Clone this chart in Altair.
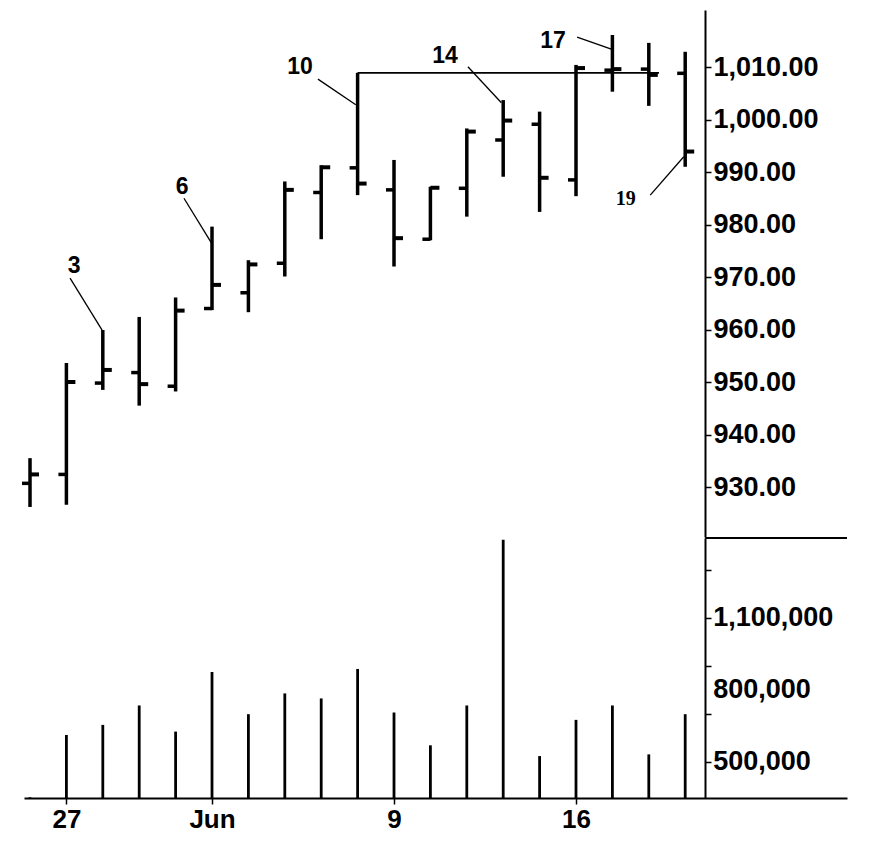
import altair as alt
import pandas as pd

# ---- data ----
dates = ["May 23", "May 27", "May 28", "May 29", "May 30", "Jun 2", "Jun 3", "Jun 4",
         "Jun 5", "Jun 6", "Jun 9", "Jun 10", "Jun 11", "Jun 12", "Jun 13", "Jun 16",
         "Jun 17", "Jun 18", "Jun 19"]
opens = [930.7, 932.4, 949.8, 951.8, 949.2, 964.0, 967.0, 972.6, 986.1, 990.8,
         986.6, 977.2, 986.9, 996.1, 999.1, 988.5, 1009.4, 1009.6, 1008.8]
highs = [935.5, 953.6, 959.9, 962.4, 966.1, 979.6, 973.2, 988.2, 991.3, 1008.9,
         992.3, 987.2, 998.3, 1003.7, 1001.5, 1010.4, 1016.1, 1014.6, 1012.9]
lows = [926.2, 926.6, 948.5, 945.5, 948.2, 963.7, 963.3, 970.1, 977.2, 985.6,
        972.0, 977.0, 981.5, 989.1, 982.4, 985.4, 1005.3, 1002.6, 991.0]
closes = [932.4, 950.0, 952.3, 949.6, 963.6, 968.5, 972.4, 986.6, 990.9, 987.8,
          977.4, 987.0, 997.7, 999.8, 988.9, 1009.8, 1009.6, 1008.5, 993.9]
volumes = [352000, 611600, 653500, 734400, 625600, 873900, 698100, 784600, 763700,
           886500, 705100, 568400, 734400, 1425000, 523700, 674400, 734400, 530700, 698100]

x_tick_pos = [1, 5, 10, 15]
x_tick_text = ["27", "Jun", "9", "16"]
price_ticks = [930, 940, 950, 960, 970, 980, 990, 1000, 1010]
vol_ticks = [500000, 600000, 700000, 800000, 900000, 1000000, 1100000, 1200000, 1300000]
vol_labeled = [500000, 800000, 1100000]
vol_label_text = ["500,000", "800,000", "1,100,000"]

ann_text = ["3", "6", "10", "14", "17", "19"]
ann_x = [1.21, 4.18, 7.42, 11.40, 14.37, 16.37]
ann_y = [972.1, 987.1, 1010.0, 1012.1, 1015.0, 984.9]
lead_x0 = [1.10, 4.23, 7.91, 12.03, 15.03, 17.04]
lead_y0 = [969.8, 985.0, 1007.7, 1010.06, 1015.7, 985.6]
lead_x1 = [1.98, 5.00, 8.95, 12.95, 15.97, 17.96]
lead_y1 = [959.9, 976.3, 1002.8, 1003.2, 1013.4, 992.9]

res_x0, res_x1, res_y = 9, 17.28, 1008.9

# ---- layout constants ----
X_DOMAIN = [-0.165, 22.445]
P_DOMAIN = [920.48, 1020.86]
V_DOMAIN = [349000, 1432000]
W = 823
AXIS_OFFSET = -142
SEP_X0, SEP_X1 = 18.55, 22.445
VOL_LABEL_X = 18.77

df = pd.DataFrame({"i": list(range(len(dates))), "date": dates, "open": opens,
                   "high": highs, "low": lows, "close": closes, "volume": volumes})
ann = pd.DataFrame({"t": ann_text, "x": ann_x, "y": ann_y})
lead = pd.DataFrame({"x0": lead_x0, "y0": lead_y0, "x1": lead_x1, "y1": lead_y1})
res = pd.DataFrame({"x0": [res_x0], "x1": [res_x1], "y": [res_y]})
sep = pd.DataFrame({"x0": [SEP_X0], "x1": [SEP_X1], "y": [V_DOMAIN[1]]})
vlab = pd.DataFrame({"v": vol_labeled, "t": vol_label_text,
                     "x": [VOL_LABEL_X] * len(vol_labeled)})

xs = alt.Scale(domain=X_DOMAIN, nice=False, zero=False)
ps = alt.Scale(domain=P_DOMAIN, nice=False, zero=False)
vs = alt.Scale(domain=V_DOMAIN, nice=False, zero=False)

FONT = "Liberation Sans"
yaxis_common = dict(orient="right", offset=AXIS_OFFSET, grid=False, title=None,
                    labelFont=FONT, labelFontSize=27, labelFontWeight="bold",
                    labelColor="black", domainColor="black", domainWidth=2,
                    tickColor="black", tickWidth=1.5, tickSize=6, labelPadding=2,
                    labelOverlap=False, labelFlush=False)

px = alt.X("i:Q", scale=xs, axis=None)
base = alt.Chart(df)

stems = base.mark_rule(color="black", strokeWidth=3.5).encode(
    x=px,
    y=alt.Y("low:Q", scale=ps,
            axis=alt.Axis(values=price_ticks, format=",.2f", **yaxis_common)),
    y2="high:Q")
open_t = base.mark_tick(color="black", opacity=1, orient="horizontal", size=8,
                        thickness=3.5, xOffset=-4).encode(
    x=px, y=alt.Y("open:Q", scale=ps))
close_t = base.mark_tick(color="black", opacity=1, orient="horizontal", size=9,
                         thickness=4, xOffset=4.5).encode(
    x=px, y=alt.Y("close:Q", scale=ps))
res_line = alt.Chart(res).mark_rule(color="black", strokeWidth=1.8).encode(
    x=alt.X("x0:Q", scale=xs, axis=None), x2="x1:Q", y=alt.Y("y:Q", scale=ps))
leaders = alt.Chart(lead).mark_rule(color="black", strokeWidth=1.3).encode(
    x=alt.X("x0:Q", scale=xs, axis=None), x2="x1:Q",
    y=alt.Y("y0:Q", scale=ps), y2="y1:Q")
ann_main = alt.Chart(ann).transform_filter(alt.datum.t != "19").mark_text(
    font=FONT, fontSize=23, fontWeight="bold", color="black").encode(
    x=alt.X("x:Q", scale=xs, axis=None), y=alt.Y("y:Q", scale=ps), text="t:N")
ann_19 = alt.Chart(ann).transform_filter(alt.datum.t == "19").mark_text(
    font="Liberation Serif", fontSize=20, fontWeight="bold", color="black").encode(
    x=alt.X("x:Q", scale=xs, axis=None), y=alt.Y("y:Q", scale=ps), text="t:N")

price = alt.layer(stems, open_t, close_t, res_line, leaders, ann_main, ann_19).properties(
    width=W, height=527)

label_expr = " : ".join(
    f"abs(datum.value - {p}) < 0.01 ? '{t}'" for p, t in zip(x_tick_pos, x_tick_text)) + " : ''"

vx = alt.X("i:Q", scale=xs,
           axis=alt.Axis(values=x_tick_pos, labelExpr=label_expr, title=None, grid=False,
                         labelFont=FONT, labelFontSize=26, labelFontWeight="bold",
                         labelColor="black", domainColor="black", domainWidth=2,
                         tickColor="black", tickWidth=1.5, tickSize=6, labelPadding=2,
                         labelFlush=False, labelOverlap=False))
vol_axis = {k: v for k, v in yaxis_common.items() if not k.startswith("label")}
vbars = base.mark_rule(color="black", strokeWidth=2.8).encode(
    x=vx,
    y=alt.Y("volume:Q", scale=vs,
            axis=alt.Axis(values=vol_ticks, labels=False, **vol_axis)),
    y2=alt.value(260))
vol_labels = alt.Chart(vlab).mark_text(
    font=FONT, fontSize=27, fontWeight="bold", color="black",
    align="left", baseline="middle").encode(
    x=alt.X("x:Q", scale=xs), y=alt.Y("v:Q", scale=vs), text="t:N")
sep_line = alt.Chart(sep).mark_rule(color="black", strokeWidth=2).encode(
    x=alt.X("x0:Q", scale=xs), x2="x1:Q", y=alt.Y("y:Q", scale=vs))
volume = alt.layer(vbars, vol_labels, sep_line).properties(width=W, height=260)

chart = alt.vconcat(price, volume, spacing=0).properties(
    padding={"left": 14, "top": 2, "right": 0, "bottom": 0},
    background="white").configure_view(stroke=None)

chart.save("out.html", embed_options={"renderer": "svg", "actions": False})
